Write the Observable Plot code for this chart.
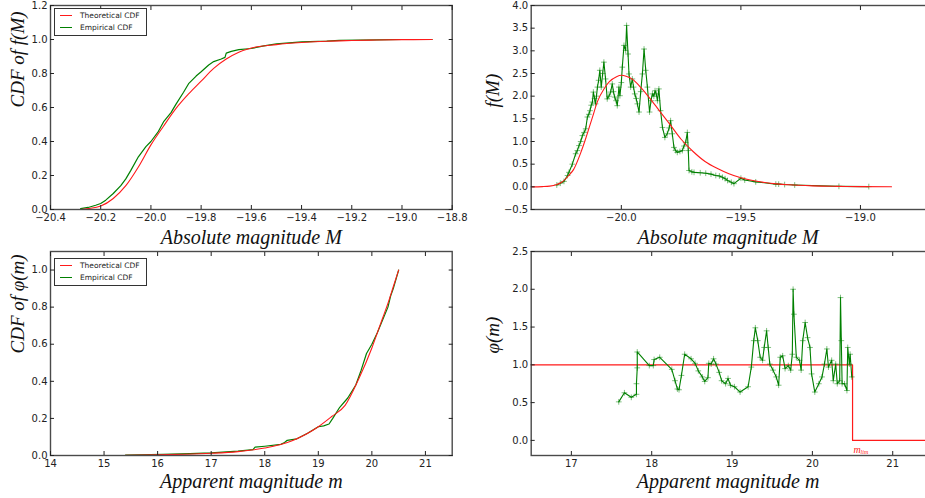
<!DOCTYPE html>
<html><head><meta charset="utf-8">
<script src="https://cdn.jsdelivr.net/npm/d3@7"></script>
<script src="https://cdn.jsdelivr.net/npm/@observablehq/plot@0.6"></script>
<style>
body{margin:0;background:#fff;overflow:hidden}
#root{position:relative;width:925px;height:498px;overflow:hidden;background:#fff}
.panel{position:absolute;overflow:visible !important}
</style></head><body><div id="root"></div>
<script>
// ---------- Panel 1: CDF of f(M) ----------
const cdfM_theoryM = [-20.28,-20.25,-20.2,-20.15,-20.1,-20.05,-20.0,-19.95,-19.9,-19.85,-19.8,-19.75,-19.7,-19.65,-19.6,-19.5,-19.4,-19.3,-19.2,-19.1,-19.0,-18.88];
const cdfM_theoryP = [0,0.005,0.02,0.065,0.14,0.25,0.38,0.49,0.595,0.68,0.755,0.83,0.885,0.925,0.95,0.97,0.982,0.99,0.994,0.997,0.999,1.0];
const cdfM_empM = [-20.28,-20.25,-20.22,-20.2,-20.18,-20.15,-20.12,-20.1,-20.08,-20.05,-20.02,-20.0,-19.97,-19.95,-19.92,-19.9,-19.87,-19.85,-19.82,-19.8,-19.77,-19.75,-19.72,-19.705,-19.7,-19.68,-19.65,-19.6,-19.55,-19.5,-19.45,-19.4,-19.3,-19.25,-19.1,-19.0,-18.88];
const cdfM_empP = [0.005,0.012,0.025,0.035,0.055,0.094,0.14,0.18,0.23,0.31,0.37,0.40,0.46,0.515,0.57,0.62,0.69,0.74,0.785,0.81,0.85,0.87,0.885,0.895,0.92,0.93,0.94,0.947,0.962,0.974,0.98,0.986,0.99,0.995,0.998,1.0,1.0];
const p1XTicks = [-20.4,-20.2,-20.0,-19.8,-19.6,-19.4,-19.2,-19.0,-18.8];
const p1YTicks = [0,0.2,0.4,0.6,0.8,1.0,1.2];

// ---------- Panel 2: f(M) ----------
const fM_theoryM = [-20.375,-20.33,-20.3,-20.27,-20.25,-20.22,-20.2,-20.17,-20.15,-20.12,-20.1,-20.07,-20.05,-20.02,-20.0,-19.98,-19.95,-19.92,-19.9,-19.87,-19.85,-19.8,-19.75,-19.7,-19.65,-19.6,-19.55,-19.5,-19.45,-19.4,-19.35,-19.3,-19.2,-19.1,-19.0,-18.87];
const fM_theoryF = [0.0,0.005,0.015,0.05,0.1,0.25,0.38,0.75,1.05,1.55,1.88,2.18,2.32,2.43,2.46,2.44,2.36,2.2,2.08,1.88,1.74,1.4,1.05,0.78,0.56,0.41,0.29,0.2,0.14,0.095,0.065,0.045,0.022,0.011,0.005,0.002];
const fM_empM = [-20.27,-20.255,-20.24,-20.225,-20.219,-20.205,-20.191,-20.184,-20.177,-20.17,-20.163,-20.156,-20.149,-20.142,-20.136,-20.131,-20.126,-20.121,-20.117,-20.112,-20.108,-20.104,-20.1,-20.095,-20.09,-20.084,-20.078,-20.073,-20.066,-20.059,-20.052,-20.045,-20.038,-20.033,-20.028,-20.022,-20.017,-20.01,-20.006,-20.0,-19.996,-19.989,-19.982,-19.978,-19.972,-19.968,-19.961,-19.954,-19.949,-19.944,-19.938,-19.933,-19.926,-19.919,-19.912,-19.905,-19.898,-19.891,-19.882,-19.876,-19.87,-19.864,-19.859,-19.854,-19.849,-19.843,-19.836,-19.828,-19.818,-19.808,-19.8,-19.794,-19.787,-19.78,-19.773,-19.766,-19.755,-19.745,-19.738,-19.731,-19.724,-19.72,-19.717,-19.705,-19.696,-19.67,-19.647,-19.625,-19.605,-19.59,-19.577,-19.566,-19.556,-19.54,-19.529,-19.50,-19.484,-19.438,-19.354,-19.342,-19.317,-19.275,-19.09,-18.965];
const fM_empF = [0.04,0.08,0.12,0.25,0.32,0.5,0.73,0.8,0.91,1.0,1.13,1.2,1.28,1.54,1.6,1.68,1.8,1.87,2.09,1.95,1.83,2.0,2.2,2.35,2.57,2.2,2.5,2.75,2.38,1.94,2.0,2.09,2.27,2.1,1.98,1.9,1.79,2.2,2.01,2.3,2.64,3.12,3.01,3.56,2.93,2.49,2.2,2.38,2.2,2.05,1.95,1.83,1.65,2.1,2.49,3.04,2.57,2.2,1.65,1.9,2.05,2.0,2.12,2.05,1.9,2.16,1.68,1.31,1.09,1.17,1.3,1.46,1.17,0.87,0.8,0.76,0.78,0.8,0.9,0.98,1.2,0.8,0.36,0.33,0.32,0.31,0.30,0.28,0.25,0.24,0.21,0.18,0.14,0.1,0.07,0.19,0.15,0.11,0.06,0.06,0.05,0.04,0.011,0.005];
const p2XTicks = [-20.0,-19.5,-19.0];
const p2YTicks = [-0.5,0,0.5,1.0,1.5,2.0,2.5,3.0,3.5,4.0];

// ---------- Panel 3: CDF of phi(m) ----------
const cdfm_theoryM = [15.4,16,16.5,17,17.5,18,18.5,19,19.25,19.5,19.75,20.0,20.1,20.2,20.3,20.4,20.5];
const cdfm_theoryP = [0.001,0.004,0.007,0.012,0.021,0.04,0.078,0.155,0.21,0.27,0.41,0.58,0.66,0.74,0.82,0.91,1.0];
const cdfm_empM = [15.4,16.1,16.6,17.0,17.5,17.78,17.82,18.0,18.3,18.37,18.42,18.6,18.8,19.0,19.1,19.2,19.27,19.4,19.55,19.7,19.8,19.9,20.0,20.1,20.2,20.3,20.35,20.4,20.5];
const cdfm_empP = [0.002,0.006,0.01,0.014,0.024,0.032,0.045,0.05,0.06,0.07,0.082,0.09,0.12,0.155,0.16,0.17,0.2,0.26,0.31,0.38,0.46,0.55,0.6,0.66,0.73,0.8,0.86,0.9,1.0];
const p3XTicks = [14,15,16,17,18,19,20,21];
const p3YTicks = [0,0.2,0.4,0.6,0.8,1.0];

// ---------- Panel 4: phi(m) ----------
const phi_empM = [17.59,17.66,17.746,17.81,17.81,17.82,17.82,17.97,18.02,18.03,18.1,18.25,18.29,18.32,18.34,18.37,18.41,18.49,18.54,18.58,18.63,18.66,18.7,18.71,18.74,18.77,18.8,18.84,18.87,18.92,18.95,18.98,19.03,19.1,19.2,19.24,19.27,19.29,19.32,19.35,19.38,19.4,19.43,19.45,19.47,19.51,19.55,19.58,19.6,19.63,19.66,19.7,19.73,19.75,19.76,19.77,19.8,19.84,19.86,19.88,19.91,19.94,19.97,19.99,20.03,20.08,20.12,20.15,20.18,20.2,20.24,20.26,20.29,20.31,20.34,20.35,20.36,20.37,20.4,20.43,20.44,20.46,20.47,20.49];
const phi_empV = [0.51,0.63,0.57,0.61,0.75,0.96,1.17,0.99,0.99,1.07,1.1,0.94,0.79,0.68,0.67,0.86,1.14,1.08,1.02,0.92,0.84,0.78,0.83,1.02,1.01,1.08,1.01,0.9,0.79,0.75,0.82,0.73,0.71,0.64,0.71,0.97,1.32,1.49,1.32,1.1,1.06,1.23,1.45,1.23,1.01,0.93,0.84,0.73,1.1,1.12,0.95,0.99,0.93,1.14,2.0,1.67,1.1,1.06,0.93,1.32,1.56,1.36,1.23,0.88,0.64,0.75,0.84,1.01,1.21,0.97,1.06,0.79,1.01,0.75,0.79,1.89,1.32,0.75,0.75,0.66,1.23,1.01,1.14,0.84];
const phi_theoryM = [16.5,20.5,20.5,21.5];
const phi_theoryV = [1,1,0,0];
const mLim = 20.5;
const p4XTicks = [17,18,19,20,21];
const p4YTicks = [0,0.5,1.0,1.5,2.0,2.5];

const legendLabels = ["Theoretical CDF","Empirical CDF"];
const RED = "#ff1a1a", GREEN = "#008000";

const zip = (xs, ys) => xs.map((x, i) => ({x, y: ys[i]}));
const root = document.getElementById("root");
const fmt1 = d3.format(".1f"), fmt0 = d3.format("d");

function panel(o) {
  const labelFont = {fontFamily: "Liberation Serif", fontStyle: "italic", fontSize: 20, fill: "#111"};
  const p = Plot.plot({
    width: o.width, height: o.height,
    marginTop: o.mt, marginBottom: o.mb, marginLeft: o.ml, marginRight: o.mr,
    x: {domain: o.xDomain}, y: {domain: o.yDomain},
    style: {background: "transparent", fontFamily: "DejaVu Sans", fontSize: "10px", color: "#222", overflow: "visible"},
    marks: [
      ...o.marks,
      Plot.frame({stroke: "#4a4a4a", strokeWidth: 1.4}),
      Plot.axisX(o.xTicks, {anchor: "bottom", tickSize: -4, tickPadding: 8, tickFormat: o.xFmt, label: null}),
      Plot.axisX(o.xTicks, {anchor: "top", tickSize: -4, tickFormat: () => "", label: null}),
      Plot.axisY(o.yTicks, {anchor: "left", tickSize: -4, tickPadding: 7, tickFormat: o.yFmt, label: null}),
      Plot.axisY(o.yTicks, {anchor: "right", tickSize: -4, tickFormat: () => "", label: null}),
      Plot.text([o.xLabel], {text: d => d, frameAnchor: "bottom", dy: o.xLabelDy, dx: o.xLabelDx || 0, lineAnchor: "bottom", ...labelFont}),
      Plot.text([o.yLabel], {text: d => d, frameAnchor: "left", dx: o.yLabelDx, rotate: -90, ...labelFont, fontSize: 19})
    ]
  });
  p.classList.add("panel");
  p.style.left = o.left + "px";
  p.style.top = o.top + "px";
  root.appendChild(p);
}

function legend(left, top) {
  const svg = d3.select(root).append("svg").attr("class", "panel")
    .style("left", left + "px").style("top", top + "px")
    .attr("width", 93).attr("height", 28);
  svg.append("rect").attr("x", 0.5).attr("y", 0.5).attr("width", 92).attr("height", 27)
    .attr("fill", "#fff").attr("stroke", "#333").attr("stroke-width", 1);
  [RED, GREEN].forEach((c, i) => {
    const y = 7.5 + i * 12;
    svg.append("line").attr("x1", 6).attr("x2", 18).attr("y1", y).attr("y2", y).attr("stroke", c).attr("stroke-width", 1);
    svg.append("text").attr("x", 26).attr("y", y).attr("dy", "0.35em")
      .attr("font-family", "DejaVu Sans").attr("font-size", 7.5).attr("fill", "#222").text(legendLabels[i]);
  });
}

// Panel 1
panel({
  left: 0, top: 0, width: 465, height: 250, mt: 5, mb: 41, ml: 50, mr: 13.3,
  xDomain: [-20.4, -18.8], yDomain: [0, 1.2], xTicks: p1XTicks, yTicks: p1YTicks, xFmt: fmt1, yFmt: fmt1,
  xLabel: "Absolute magnitude M", yLabel: "CDF of f(M)", xLabelDy: 34, yLabelDx: -33,
  marks: [
    Plot.line(zip(cdfM_empM, cdfM_empP), {x: "x", y: "y", stroke: GREEN, strokeWidth: 1.2}),
    Plot.line(zip(cdfM_theoryM, cdfM_theoryP), {x: "x", y: "y", stroke: RED, strokeWidth: 1.1, curve: "monotone-x"})
  ]
});

// Panel 2
panel({
  left: 460, top: 0, width: 480, height: 250, mt: 5, mb: 41, ml: 70.7, mr: 7.6,
  xDomain: [-20.377, -18.697], yDomain: [-0.5, 4.0], xTicks: p2XTicks, yTicks: p2YTicks, xFmt: fmt1, yFmt: fmt1,
  xLabel: "Absolute magnitude M", yLabel: "f(M)", xLabelDy: 34, xLabelDx: -4, yLabelDx: -38,
  marks: [
    Plot.line(zip(fM_empM, fM_empF), {x: "x", y: "y", stroke: GREEN, strokeWidth: 1.1}),
    Plot.dot(zip(fM_empM, fM_empF), {x: "x", y: "y", symbol: "plus", r: 2, stroke: GREEN, strokeOpacity: 0.5, strokeWidth: 1}),
    Plot.line(zip(fM_theoryM, fM_theoryF), {x: "x", y: "y", stroke: RED, strokeWidth: 1.1, curve: "monotone-x"})
  ]
});

// Panel 3
panel({
  left: 0, top: 250, width: 465, height: 248, mt: 1, mb: 43, ml: 50, mr: 13.3,
  xDomain: [14, 21.5], yDomain: [0, 1.1], xTicks: p3XTicks, yTicks: p3YTicks, xFmt: fmt0, yFmt: fmt1,
  xLabel: "Apparent magnitude m", yLabel: "CDF of φ(m)", xLabelDy: 32, yLabelDx: -33,
  marks: [
    Plot.line(zip(cdfm_empM, cdfm_empP), {x: "x", y: "y", stroke: GREEN, strokeWidth: 1.2}),
    Plot.line(zip(cdfm_theoryM, cdfm_theoryP), {x: "x", y: "y", stroke: RED, strokeWidth: 1.1, curve: "monotone-x"})
  ]
});

// Panel 4
panel({
  left: 460, top: 250, width: 480, height: 248, mt: 1, mb: 43, ml: 70.7, mr: 7.6,
  xDomain: [16.5, 21.5], yDomain: [-0.2, 2.5], xTicks: p4XTicks, yTicks: p4YTicks, xFmt: fmt0, yFmt: fmt1,
  xLabel: "Apparent magnitude m", yLabel: "φ(m)", xLabelDy: 32, xLabelDx: -4, yLabelDx: -38,
  marks: [
    Plot.line(zip(phi_theoryM, phi_theoryV), {x: "x", y: "y", stroke: RED, strokeWidth: 1.2}),
    Plot.line(zip(phi_empM, phi_empV), {x: "x", y: "y", stroke: GREEN, strokeWidth: 1.1}),
    Plot.dot(zip(phi_empM, phi_empV), {x: "x", y: "y", symbol: "plus", r: 2, stroke: GREEN, strokeOpacity: 0.5, strokeWidth: 1}),
    Plot.text([mLim], {x: d => d, y: () => 0, text: () => "m", dx: 1, dy: 9, textAnchor: "start", fill: RED, fontFamily: "Liberation Serif", fontStyle: "italic", fontSize: 10}),
    Plot.text([mLim], {x: d => d, y: () => 0, text: () => "lim", dx: 8, dy: 12, textAnchor: "start", fill: RED, fontFamily: "Liberation Serif", fontStyle: "italic", fontSize: 6})
  ]
});

legend(54, 8);
legend(54, 258);
</script></body></html>
